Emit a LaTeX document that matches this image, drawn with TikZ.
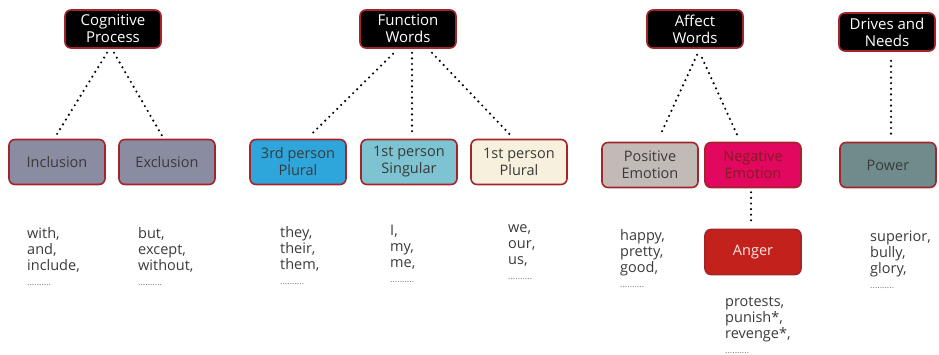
\documentclass[tikz,border=0pt]{standalone}
\usepackage{fontspec}
\setmainfont{Open Sans}
\definecolor{rimred}{HTML}{A3242A}
\definecolor{incgray}{HTML}{8A8CA2}
\definecolor{thirdblue}{HTML}{2EA6DC}
\definecolor{singblue}{HTML}{7DC3D1}
\definecolor{cream}{HTML}{F6F0DC}
\definecolor{posgray}{HTML}{C1BAB7}
\definecolor{negpink}{HTML}{E2075F}
\definecolor{powteal}{HTML}{6F8B8B}
\definecolor{angred}{HTML}{C3221C}
\definecolor{txtgray}{HTML}{3A3A3A}
\newcommand{\ellip}{\\[-1pt]{\fontsize{9}{10}\selectfont\color{txtgray!70} ..........}}
\begin{document}
\begin{tikzpicture}[x=1pt,y=-1pt,
	cat/.style={draw=rimred,line width=1.6pt,rounded corners=6pt,fill=black,text=white,
		minimum width=96pt,minimum height=38pt,align=center,inner sep=1pt,font=\fontsize{15}{17}\selectfont},
	sub/.style={draw=rimred,line width=1.6pt,rounded corners=6pt,text=txtgray,
		minimum width=96pt,minimum height=45pt,align=center,inner sep=1pt,font=\fontsize{14.5}{17}\selectfont},
	words/.style={anchor=north west,align=left,text=txtgray,inner sep=0pt,font=\fontsize{14.5}{16}\selectfont},
	dots/.style={line width=2.4pt,line cap=round,dash pattern=on 0pt off 5.6pt}]
	\useasboundingbox (0,0) rectangle (939,355);
	% top categories
	\node[cat] (cp) at (113,29) {Cognitive\\Process};
	\node[cat] (fw) at (408,29) {Function\\Words};
	\node[cat] (aw) at (695,29) {Affect\\Words};
	\node[cat] (dn) at (887,32) {Drives and\\Needs};
	% sub categories
	\node[sub,fill=incgray] (inc) at (57,162) {Inclusion};
	\node[sub,fill=incgray] (exc) at (167,162) {Exclusion};
	\node[sub,fill=thirdblue] (tpp) at (298,162) {3rd person\\Plural};
	\node[sub,fill=singblue] (fps) at (409,162) {1st person\\Singular};
	\node[sub,fill=cream] (fpp) at (519,162) {1st person\\Plural};
	\node[sub,fill=posgray] (pos) at (650,165) {Positive\\Emotion};
	\node[sub,fill=negpink,text=rimred!80!black] (neg) at (753,165) {Negative\\Emotion};
	\node[sub,fill=powteal] (pow) at (888,165) {Power};
	\node[sub,fill=angred,text=white!90!red] (ang) at (753,252) {Anger};
	% connectors
	\draw[dots] ([xshift=-6pt,yshift=-4pt]cp.south) -- ([xshift=-1pt,yshift=3pt]inc.north);
	\draw[dots] ([xshift=1pt,yshift=-4pt]cp.south) -- ([xshift=-5pt,yshift=3pt]exc.north);
	\draw[dots] ([xshift=-15pt,yshift=-5pt]fw.south) -- ([xshift=12pt,yshift=3pt]tpp.north);
	\draw[dots] ([xshift=4pt,yshift=-4pt]fw.south) -- ([xshift=3pt,yshift=7pt]fps.north);
	\draw[dots] ([xshift=24pt,yshift=-4pt]fw.south) -- ([xshift=-8pt,yshift=3pt]fpp.north);
	\draw[dots] ([xshift=2pt,yshift=-6pt]aw.south) -- ([xshift=10pt,yshift=6pt]pos.north);
	\draw[dots] ([xshift=7pt,yshift=-9pt]aw.south) -- ([xshift=-15pt,yshift=5pt]neg.north);
	\draw[dots] ([xshift=4pt,yshift=-9pt]dn.south) -- ([xshift=3pt,yshift=3pt]pow.north);
	\draw[dots] ([xshift=-2pt,yshift=-4pt]neg.south) -- ([xshift=-2pt,yshift=3pt]ang.north);
	% word lists
	\node[words] (winc) at (27,227) {with,\\and,\\include,\ellip};
	\node[words] (wexc) at (138,227) {but,\\except,\\without,\ellip};
	\node[words] (wtpp) at (280,226) {they,\\their,\\them,\ellip};
	\node[words] (wfps) at (390,225) {I,\\my,\\me,\ellip};
	\node[words] (wfpp) at (508,224) {we,\\our,\\us,\ellip};
	\node[words] (wpos) at (620,229) {happy,\\pretty,\\good,\ellip};
	\node[words] (wang) at (725,297) {protests,\\punish*,\\revenge*,\ellip};
	\node[words] (wpow) at (870,231) {superior,\\bully,\\glory,\ellip};
\end{tikzpicture}
\end{document}
